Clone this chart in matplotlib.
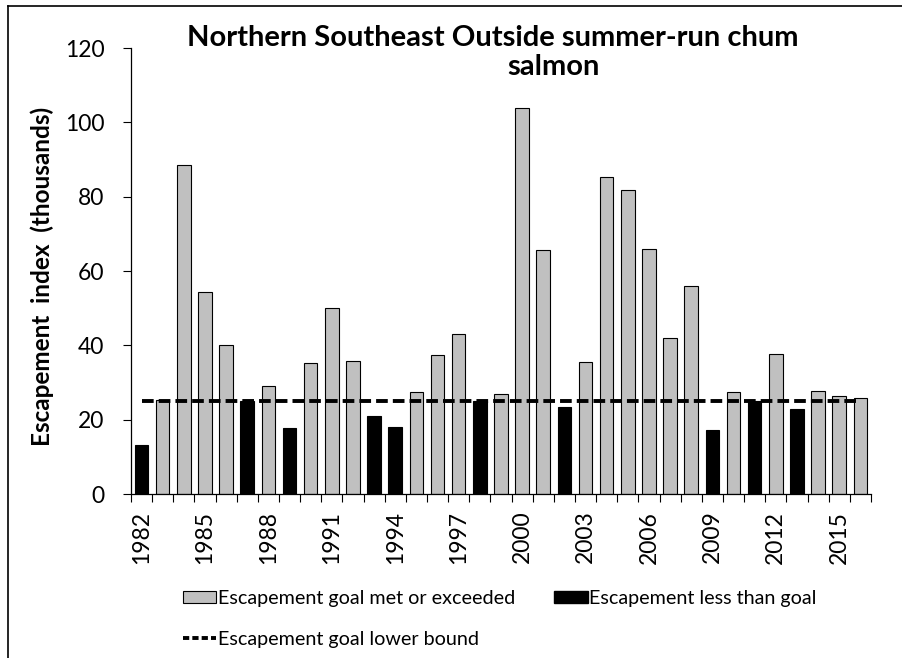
import matplotlib.pyplot as plt
from matplotlib.lines import Line2D
from matplotlib.patches import Patch

# escapement index (thousands) by year
years = list(range(1982, 2017))
escapement = [13.1, 25.3, 88.5, 54.4, 40.2, 24.9, 29.2, 17.7, 35.2, 50.1,
              35.7, 21.0, 18.1, 27.4, 37.4, 43.1, 24.9, 26.9, 103.8, 65.6,
              23.3, 35.6, 85.2, 81.8, 65.9, 42.1, 56.1, 17.1, 27.5, 24.9,
              37.8, 22.9, 27.6, 26.3, 25.9]
goal_lower = 25.0

plt.rcParams["font.family"] = "Lato"

fig = plt.figure(figsize=(9.02, 6.58), dpi=100)
ax = fig.add_axes([0.1452, 0.2492, 0.8204, 0.6778])

pos = list(range(len(years)))
colors = ["#c0c0c0" if v >= goal_lower else "black" for v in escapement]
ax.bar(pos, escapement, width=0.64, color=colors, edgecolor="black", linewidth=0.8)
ax.plot([pos[0], pos[-1]], [goal_lower, goal_lower], color="black", lw=2.8,
        dashes=(3.0, 1.3))

ax.set_xlim(-0.5, len(years) - 0.5)
ax.set_ylim(0, 120)
ax.set_yticks(range(0, 121, 20))
ax.set_xticks(pos[::3])
ax.set_xticklabels([str(y) for y in years[::3]], rotation=90)
ax.set_xticks([p - 0.5 for p in pos] + [pos[-1] + 0.5], minor=True)
ax.tick_params(axis="x", which="major", length=0, labelsize=16.5, pad=12)
ax.tick_params(axis="x", which="minor", length=6, width=0.8)
ax.tick_params(axis="y", length=6, width=0.8, labelsize=16.5, pad=13)

for side in ["top", "right"]:
    ax.spines[side].set_visible(False)
for side in ["left", "bottom"]:
    ax.spines[side].set_linewidth(0.9)

fig.text(42 / 902, 1 - 276 / 658, "Escapement  index  (thousands)", rotation=90,
         ha="center", va="center", fontsize=17.5, fontweight="bold")

# two-line title, wrapped inside the chart area
fig.text(493 / 902, 1 - 46 / 658, "Northern Southeast Outside summer-run chum",
         ha="center", va="baseline", fontsize=21, fontweight="bold")
fig.text(553 / 902, 1 - 75 / 658, "salmon",
         ha="center", va="baseline", fontsize=21, fontweight="bold")

handles = [Patch(facecolor="#c0c0c0", edgecolor="black", linewidth=0.8),
           Line2D([], [], color="black", lw=2.8, dashes=(1.6, 0.8)),
           Patch(facecolor="black", edgecolor="black")]
labels = ["Escapement goal met or exceeded", "Escapement goal lower bound",
          "Escapement less than goal"]
fig.legend(handles, labels, ncol=2, loc="upper left",
           bbox_to_anchor=(183 / 902, 1 - 590 / 658), frameon=False,
           prop={"size": 14.2}, handlelength=1.68, handleheight=0.56,
           handletextpad=0.08, columnspacing=2.0, labelspacing=1.2,
           borderpad=0, borderaxespad=0)

# chart area border
fig.add_artist(Line2D([8 / 902, 1.0], [1 - 6 / 658, 1 - 6 / 658],
                      transform=fig.transFigure, color="black", lw=1.2))
fig.add_artist(Line2D([8 / 902, 8 / 902], [0, 1 - 6 / 658],
                      transform=fig.transFigure, color="black", lw=1.2))

fig.savefig("out.png", dpi=100)
